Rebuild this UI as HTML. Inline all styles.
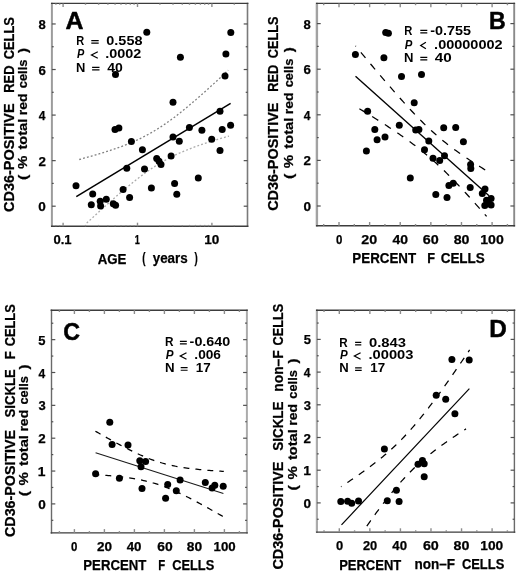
<!DOCTYPE html>
<html><head><meta charset="utf-8"><title>Figure</title>
<style>
html,body{margin:0;padding:0;background:#fff;}
body{width:520px;height:573px;overflow:hidden;font-family:"Liberation Sans",sans-serif;}
svg{display:block;will-change:transform;filter:blur(0.35px);}
</style></head>
<body>
<svg width="520" height="573" viewBox="0 0 520 573"><rect width="520" height="573" fill="#fff"/><path d="M51.90,2.70V227.00" stroke="#9c9c9c" stroke-width="2.0" fill="none"/><path d="M247.50,2.70V227.00" stroke="#7a7a7a" stroke-width="1.6" fill="none"/><path d="M51.00,3.40H248.40M51.00,226.30H248.40" stroke="#3c3c3c" stroke-width="1.4" fill="none"/>
<line x1="51.90" y1="206.20" x2="55.70" y2="206.20" stroke="#505050" stroke-width="1.2"/>
<line x1="243.70" y1="206.20" x2="247.50" y2="206.20" stroke="#505050" stroke-width="1.2"/>
<line x1="51.90" y1="183.42" x2="53.70" y2="183.42" stroke="#505050" stroke-width="1.2"/>
<line x1="245.70" y1="183.42" x2="247.50" y2="183.42" stroke="#505050" stroke-width="1.2"/>
<line x1="51.90" y1="160.64" x2="55.70" y2="160.64" stroke="#505050" stroke-width="1.2"/>
<line x1="243.70" y1="160.64" x2="247.50" y2="160.64" stroke="#505050" stroke-width="1.2"/>
<line x1="51.90" y1="137.86" x2="53.70" y2="137.86" stroke="#505050" stroke-width="1.2"/>
<line x1="245.70" y1="137.86" x2="247.50" y2="137.86" stroke="#505050" stroke-width="1.2"/>
<line x1="51.90" y1="115.08" x2="55.70" y2="115.08" stroke="#505050" stroke-width="1.2"/>
<line x1="243.70" y1="115.08" x2="247.50" y2="115.08" stroke="#505050" stroke-width="1.2"/>
<line x1="51.90" y1="92.30" x2="53.70" y2="92.30" stroke="#505050" stroke-width="1.2"/>
<line x1="245.70" y1="92.30" x2="247.50" y2="92.30" stroke="#505050" stroke-width="1.2"/>
<line x1="51.90" y1="69.52" x2="55.70" y2="69.52" stroke="#505050" stroke-width="1.2"/>
<line x1="243.70" y1="69.52" x2="247.50" y2="69.52" stroke="#505050" stroke-width="1.2"/>
<line x1="51.90" y1="46.74" x2="53.70" y2="46.74" stroke="#505050" stroke-width="1.2"/>
<line x1="245.70" y1="46.74" x2="247.50" y2="46.74" stroke="#505050" stroke-width="1.2"/>
<line x1="51.90" y1="23.96" x2="55.70" y2="23.96" stroke="#505050" stroke-width="1.2"/>
<line x1="243.70" y1="23.96" x2="247.50" y2="23.96" stroke="#505050" stroke-width="1.2"/>
<line x1="55.89" y1="224.90" x2="55.89" y2="226.30" stroke="#8c8c8c" stroke-width="1.4"/>
<line x1="55.89" y1="3.40" x2="55.89" y2="4.80" stroke="#8c8c8c" stroke-width="1.4"/>
<line x1="59.70" y1="224.90" x2="59.70" y2="226.30" stroke="#8c8c8c" stroke-width="1.4"/>
<line x1="59.70" y1="3.40" x2="59.70" y2="4.80" stroke="#8c8c8c" stroke-width="1.4"/>
<line x1="63.10" y1="222.70" x2="63.10" y2="226.30" stroke="#8c8c8c" stroke-width="1.4"/>
<line x1="63.10" y1="3.40" x2="63.10" y2="7.00" stroke="#8c8c8c" stroke-width="1.4"/>
<line x1="85.50" y1="224.90" x2="85.50" y2="226.30" stroke="#8c8c8c" stroke-width="1.4"/>
<line x1="85.50" y1="3.40" x2="85.50" y2="4.80" stroke="#8c8c8c" stroke-width="1.4"/>
<line x1="98.60" y1="224.90" x2="98.60" y2="226.30" stroke="#8c8c8c" stroke-width="1.4"/>
<line x1="98.60" y1="3.40" x2="98.60" y2="4.80" stroke="#8c8c8c" stroke-width="1.4"/>
<line x1="107.89" y1="224.90" x2="107.89" y2="226.30" stroke="#8c8c8c" stroke-width="1.4"/>
<line x1="107.89" y1="3.40" x2="107.89" y2="4.80" stroke="#8c8c8c" stroke-width="1.4"/>
<line x1="115.10" y1="224.90" x2="115.10" y2="226.30" stroke="#8c8c8c" stroke-width="1.4"/>
<line x1="115.10" y1="3.40" x2="115.10" y2="4.80" stroke="#8c8c8c" stroke-width="1.4"/>
<line x1="120.99" y1="224.90" x2="120.99" y2="226.30" stroke="#8c8c8c" stroke-width="1.4"/>
<line x1="120.99" y1="3.40" x2="120.99" y2="4.80" stroke="#8c8c8c" stroke-width="1.4"/>
<line x1="125.98" y1="224.90" x2="125.98" y2="226.30" stroke="#8c8c8c" stroke-width="1.4"/>
<line x1="125.98" y1="3.40" x2="125.98" y2="4.80" stroke="#8c8c8c" stroke-width="1.4"/>
<line x1="130.29" y1="224.90" x2="130.29" y2="226.30" stroke="#8c8c8c" stroke-width="1.4"/>
<line x1="130.29" y1="3.40" x2="130.29" y2="4.80" stroke="#8c8c8c" stroke-width="1.4"/>
<line x1="134.10" y1="224.90" x2="134.10" y2="226.30" stroke="#8c8c8c" stroke-width="1.4"/>
<line x1="134.10" y1="3.40" x2="134.10" y2="4.80" stroke="#8c8c8c" stroke-width="1.4"/>
<line x1="137.50" y1="222.70" x2="137.50" y2="226.30" stroke="#8c8c8c" stroke-width="1.4"/>
<line x1="137.50" y1="3.40" x2="137.50" y2="7.00" stroke="#8c8c8c" stroke-width="1.4"/>
<line x1="159.90" y1="224.90" x2="159.90" y2="226.30" stroke="#8c8c8c" stroke-width="1.4"/>
<line x1="159.90" y1="3.40" x2="159.90" y2="4.80" stroke="#8c8c8c" stroke-width="1.4"/>
<line x1="173.00" y1="224.90" x2="173.00" y2="226.30" stroke="#8c8c8c" stroke-width="1.4"/>
<line x1="173.00" y1="3.40" x2="173.00" y2="4.80" stroke="#8c8c8c" stroke-width="1.4"/>
<line x1="182.29" y1="224.90" x2="182.29" y2="226.30" stroke="#8c8c8c" stroke-width="1.4"/>
<line x1="182.29" y1="3.40" x2="182.29" y2="4.80" stroke="#8c8c8c" stroke-width="1.4"/>
<line x1="189.50" y1="224.90" x2="189.50" y2="226.30" stroke="#8c8c8c" stroke-width="1.4"/>
<line x1="189.50" y1="3.40" x2="189.50" y2="4.80" stroke="#8c8c8c" stroke-width="1.4"/>
<line x1="195.39" y1="224.90" x2="195.39" y2="226.30" stroke="#8c8c8c" stroke-width="1.4"/>
<line x1="195.39" y1="3.40" x2="195.39" y2="4.80" stroke="#8c8c8c" stroke-width="1.4"/>
<line x1="200.38" y1="224.90" x2="200.38" y2="226.30" stroke="#8c8c8c" stroke-width="1.4"/>
<line x1="200.38" y1="3.40" x2="200.38" y2="4.80" stroke="#8c8c8c" stroke-width="1.4"/>
<line x1="204.69" y1="224.90" x2="204.69" y2="226.30" stroke="#8c8c8c" stroke-width="1.4"/>
<line x1="204.69" y1="3.40" x2="204.69" y2="4.80" stroke="#8c8c8c" stroke-width="1.4"/>
<line x1="208.50" y1="224.90" x2="208.50" y2="226.30" stroke="#8c8c8c" stroke-width="1.4"/>
<line x1="208.50" y1="3.40" x2="208.50" y2="4.80" stroke="#8c8c8c" stroke-width="1.4"/>
<line x1="211.90" y1="222.70" x2="211.90" y2="226.30" stroke="#8c8c8c" stroke-width="1.4"/>
<line x1="211.90" y1="3.40" x2="211.90" y2="7.00" stroke="#8c8c8c" stroke-width="1.4"/>
<line x1="234.30" y1="224.90" x2="234.30" y2="226.30" stroke="#8c8c8c" stroke-width="1.4"/>
<line x1="234.30" y1="3.40" x2="234.30" y2="4.80" stroke="#8c8c8c" stroke-width="1.4"/>
<path d="M316.90,2.70V226.50" stroke="#a2a2a2" stroke-width="2.4" fill="none"/><path d="M514.20,2.70V226.50" stroke="#8a8a8a" stroke-width="1.9" fill="none"/><path d="M316.00,3.40H515.10M316.00,225.80H515.10" stroke="#3c3c3c" stroke-width="1.4" fill="none"/>
<line x1="316.90" y1="206.00" x2="320.70" y2="206.00" stroke="#505050" stroke-width="1.2"/>
<line x1="510.40" y1="206.00" x2="514.20" y2="206.00" stroke="#505050" stroke-width="1.2"/>
<line x1="316.90" y1="183.20" x2="318.70" y2="183.20" stroke="#505050" stroke-width="1.2"/>
<line x1="512.40" y1="183.20" x2="514.20" y2="183.20" stroke="#505050" stroke-width="1.2"/>
<line x1="316.90" y1="160.40" x2="320.70" y2="160.40" stroke="#505050" stroke-width="1.2"/>
<line x1="510.40" y1="160.40" x2="514.20" y2="160.40" stroke="#505050" stroke-width="1.2"/>
<line x1="316.90" y1="137.60" x2="318.70" y2="137.60" stroke="#505050" stroke-width="1.2"/>
<line x1="512.40" y1="137.60" x2="514.20" y2="137.60" stroke="#505050" stroke-width="1.2"/>
<line x1="316.90" y1="114.80" x2="320.70" y2="114.80" stroke="#505050" stroke-width="1.2"/>
<line x1="510.40" y1="114.80" x2="514.20" y2="114.80" stroke="#505050" stroke-width="1.2"/>
<line x1="316.90" y1="92.00" x2="318.70" y2="92.00" stroke="#505050" stroke-width="1.2"/>
<line x1="512.40" y1="92.00" x2="514.20" y2="92.00" stroke="#505050" stroke-width="1.2"/>
<line x1="316.90" y1="69.20" x2="320.70" y2="69.20" stroke="#505050" stroke-width="1.2"/>
<line x1="510.40" y1="69.20" x2="514.20" y2="69.20" stroke="#505050" stroke-width="1.2"/>
<line x1="316.90" y1="46.40" x2="318.70" y2="46.40" stroke="#505050" stroke-width="1.2"/>
<line x1="512.40" y1="46.40" x2="514.20" y2="46.40" stroke="#505050" stroke-width="1.2"/>
<line x1="316.90" y1="23.60" x2="320.70" y2="23.60" stroke="#505050" stroke-width="1.2"/>
<line x1="510.40" y1="23.60" x2="514.20" y2="23.60" stroke="#505050" stroke-width="1.2"/>
<line x1="323.69" y1="224.00" x2="323.69" y2="225.80" stroke="#8c8c8c" stroke-width="1.4"/>
<line x1="323.69" y1="3.40" x2="323.69" y2="5.20" stroke="#8c8c8c" stroke-width="1.4"/>
<line x1="339.00" y1="222.00" x2="339.00" y2="225.80" stroke="#8c8c8c" stroke-width="1.4"/>
<line x1="339.00" y1="3.40" x2="339.00" y2="7.20" stroke="#8c8c8c" stroke-width="1.4"/>
<line x1="354.31" y1="224.00" x2="354.31" y2="225.80" stroke="#8c8c8c" stroke-width="1.4"/>
<line x1="354.31" y1="3.40" x2="354.31" y2="5.20" stroke="#8c8c8c" stroke-width="1.4"/>
<line x1="369.62" y1="222.00" x2="369.62" y2="225.80" stroke="#8c8c8c" stroke-width="1.4"/>
<line x1="369.62" y1="3.40" x2="369.62" y2="7.20" stroke="#8c8c8c" stroke-width="1.4"/>
<line x1="384.93" y1="224.00" x2="384.93" y2="225.80" stroke="#8c8c8c" stroke-width="1.4"/>
<line x1="384.93" y1="3.40" x2="384.93" y2="5.20" stroke="#8c8c8c" stroke-width="1.4"/>
<line x1="400.24" y1="222.00" x2="400.24" y2="225.80" stroke="#8c8c8c" stroke-width="1.4"/>
<line x1="400.24" y1="3.40" x2="400.24" y2="7.20" stroke="#8c8c8c" stroke-width="1.4"/>
<line x1="415.55" y1="224.00" x2="415.55" y2="225.80" stroke="#8c8c8c" stroke-width="1.4"/>
<line x1="415.55" y1="3.40" x2="415.55" y2="5.20" stroke="#8c8c8c" stroke-width="1.4"/>
<line x1="430.86" y1="222.00" x2="430.86" y2="225.80" stroke="#8c8c8c" stroke-width="1.4"/>
<line x1="430.86" y1="3.40" x2="430.86" y2="7.20" stroke="#8c8c8c" stroke-width="1.4"/>
<line x1="446.17" y1="224.00" x2="446.17" y2="225.80" stroke="#8c8c8c" stroke-width="1.4"/>
<line x1="446.17" y1="3.40" x2="446.17" y2="5.20" stroke="#8c8c8c" stroke-width="1.4"/>
<line x1="461.48" y1="222.00" x2="461.48" y2="225.80" stroke="#8c8c8c" stroke-width="1.4"/>
<line x1="461.48" y1="3.40" x2="461.48" y2="7.20" stroke="#8c8c8c" stroke-width="1.4"/>
<line x1="476.79" y1="224.00" x2="476.79" y2="225.80" stroke="#8c8c8c" stroke-width="1.4"/>
<line x1="476.79" y1="3.40" x2="476.79" y2="5.20" stroke="#8c8c8c" stroke-width="1.4"/>
<line x1="492.10" y1="222.00" x2="492.10" y2="225.80" stroke="#8c8c8c" stroke-width="1.4"/>
<line x1="492.10" y1="3.40" x2="492.10" y2="7.20" stroke="#8c8c8c" stroke-width="1.4"/>
<line x1="507.41" y1="224.00" x2="507.41" y2="225.80" stroke="#8c8c8c" stroke-width="1.4"/>
<line x1="507.41" y1="3.40" x2="507.41" y2="5.20" stroke="#8c8c8c" stroke-width="1.4"/>
<path d="M51.50,309.50V533.60" stroke="#6a6a6a" stroke-width="1.4" fill="none"/><path d="M246.90,309.50V533.60" stroke="#ababab" stroke-width="2.0" fill="none"/><path d="M50.60,310.20H247.80M50.60,532.90H247.80" stroke="#3c3c3c" stroke-width="1.4" fill="none"/>
<line x1="51.50" y1="520.32" x2="53.30" y2="520.32" stroke="#505050" stroke-width="1.2"/>
<line x1="245.10" y1="520.32" x2="246.90" y2="520.32" stroke="#505050" stroke-width="1.2"/>
<line x1="51.50" y1="503.90" x2="55.30" y2="503.90" stroke="#505050" stroke-width="1.2"/>
<line x1="243.10" y1="503.90" x2="246.90" y2="503.90" stroke="#505050" stroke-width="1.2"/>
<line x1="51.50" y1="487.47" x2="53.30" y2="487.47" stroke="#505050" stroke-width="1.2"/>
<line x1="245.10" y1="487.47" x2="246.90" y2="487.47" stroke="#505050" stroke-width="1.2"/>
<line x1="51.50" y1="471.05" x2="55.30" y2="471.05" stroke="#505050" stroke-width="1.2"/>
<line x1="243.10" y1="471.05" x2="246.90" y2="471.05" stroke="#505050" stroke-width="1.2"/>
<line x1="51.50" y1="454.62" x2="53.30" y2="454.62" stroke="#505050" stroke-width="1.2"/>
<line x1="245.10" y1="454.62" x2="246.90" y2="454.62" stroke="#505050" stroke-width="1.2"/>
<line x1="51.50" y1="438.20" x2="55.30" y2="438.20" stroke="#505050" stroke-width="1.2"/>
<line x1="243.10" y1="438.20" x2="246.90" y2="438.20" stroke="#505050" stroke-width="1.2"/>
<line x1="51.50" y1="421.77" x2="53.30" y2="421.77" stroke="#505050" stroke-width="1.2"/>
<line x1="245.10" y1="421.77" x2="246.90" y2="421.77" stroke="#505050" stroke-width="1.2"/>
<line x1="51.50" y1="405.35" x2="55.30" y2="405.35" stroke="#505050" stroke-width="1.2"/>
<line x1="243.10" y1="405.35" x2="246.90" y2="405.35" stroke="#505050" stroke-width="1.2"/>
<line x1="51.50" y1="388.92" x2="53.30" y2="388.92" stroke="#505050" stroke-width="1.2"/>
<line x1="245.10" y1="388.92" x2="246.90" y2="388.92" stroke="#505050" stroke-width="1.2"/>
<line x1="51.50" y1="372.50" x2="55.30" y2="372.50" stroke="#505050" stroke-width="1.2"/>
<line x1="243.10" y1="372.50" x2="246.90" y2="372.50" stroke="#505050" stroke-width="1.2"/>
<line x1="51.50" y1="356.07" x2="53.30" y2="356.07" stroke="#505050" stroke-width="1.2"/>
<line x1="245.10" y1="356.07" x2="246.90" y2="356.07" stroke="#505050" stroke-width="1.2"/>
<line x1="51.50" y1="339.65" x2="55.30" y2="339.65" stroke="#505050" stroke-width="1.2"/>
<line x1="243.10" y1="339.65" x2="246.90" y2="339.65" stroke="#505050" stroke-width="1.2"/>
<line x1="51.50" y1="323.22" x2="53.30" y2="323.22" stroke="#505050" stroke-width="1.2"/>
<line x1="245.10" y1="323.22" x2="246.90" y2="323.22" stroke="#505050" stroke-width="1.2"/>
<line x1="59.40" y1="531.10" x2="59.40" y2="532.90" stroke="#8c8c8c" stroke-width="1.4"/>
<line x1="59.40" y1="310.20" x2="59.40" y2="312.00" stroke="#8c8c8c" stroke-width="1.4"/>
<line x1="74.40" y1="529.10" x2="74.40" y2="532.90" stroke="#8c8c8c" stroke-width="1.4"/>
<line x1="74.40" y1="310.20" x2="74.40" y2="314.00" stroke="#8c8c8c" stroke-width="1.4"/>
<line x1="89.40" y1="531.10" x2="89.40" y2="532.90" stroke="#8c8c8c" stroke-width="1.4"/>
<line x1="89.40" y1="310.20" x2="89.40" y2="312.00" stroke="#8c8c8c" stroke-width="1.4"/>
<line x1="104.40" y1="529.10" x2="104.40" y2="532.90" stroke="#8c8c8c" stroke-width="1.4"/>
<line x1="104.40" y1="310.20" x2="104.40" y2="314.00" stroke="#8c8c8c" stroke-width="1.4"/>
<line x1="119.40" y1="531.10" x2="119.40" y2="532.90" stroke="#8c8c8c" stroke-width="1.4"/>
<line x1="119.40" y1="310.20" x2="119.40" y2="312.00" stroke="#8c8c8c" stroke-width="1.4"/>
<line x1="134.40" y1="529.10" x2="134.40" y2="532.90" stroke="#8c8c8c" stroke-width="1.4"/>
<line x1="134.40" y1="310.20" x2="134.40" y2="314.00" stroke="#8c8c8c" stroke-width="1.4"/>
<line x1="149.40" y1="531.10" x2="149.40" y2="532.90" stroke="#8c8c8c" stroke-width="1.4"/>
<line x1="149.40" y1="310.20" x2="149.40" y2="312.00" stroke="#8c8c8c" stroke-width="1.4"/>
<line x1="164.40" y1="529.10" x2="164.40" y2="532.90" stroke="#8c8c8c" stroke-width="1.4"/>
<line x1="164.40" y1="310.20" x2="164.40" y2="314.00" stroke="#8c8c8c" stroke-width="1.4"/>
<line x1="179.40" y1="531.10" x2="179.40" y2="532.90" stroke="#8c8c8c" stroke-width="1.4"/>
<line x1="179.40" y1="310.20" x2="179.40" y2="312.00" stroke="#8c8c8c" stroke-width="1.4"/>
<line x1="194.40" y1="529.10" x2="194.40" y2="532.90" stroke="#8c8c8c" stroke-width="1.4"/>
<line x1="194.40" y1="310.20" x2="194.40" y2="314.00" stroke="#8c8c8c" stroke-width="1.4"/>
<line x1="209.40" y1="531.10" x2="209.40" y2="532.90" stroke="#8c8c8c" stroke-width="1.4"/>
<line x1="209.40" y1="310.20" x2="209.40" y2="312.00" stroke="#8c8c8c" stroke-width="1.4"/>
<line x1="224.40" y1="529.10" x2="224.40" y2="532.90" stroke="#8c8c8c" stroke-width="1.4"/>
<line x1="224.40" y1="310.20" x2="224.40" y2="314.00" stroke="#8c8c8c" stroke-width="1.4"/>
<line x1="239.40" y1="531.10" x2="239.40" y2="532.90" stroke="#8c8c8c" stroke-width="1.4"/>
<line x1="239.40" y1="310.20" x2="239.40" y2="312.00" stroke="#8c8c8c" stroke-width="1.4"/>
<path d="M316.90,309.50V532.80" stroke="#ababab" stroke-width="2.2" fill="none"/><path d="M514.40,309.50V532.80" stroke="#6a6a6a" stroke-width="1.4" fill="none"/><path d="M316.00,310.20H515.30M316.00,532.10H515.30" stroke="#3c3c3c" stroke-width="1.4" fill="none"/>
<line x1="316.90" y1="519.25" x2="318.70" y2="519.25" stroke="#505050" stroke-width="1.2"/>
<line x1="512.60" y1="519.25" x2="514.40" y2="519.25" stroke="#505050" stroke-width="1.2"/>
<line x1="316.90" y1="502.90" x2="320.70" y2="502.90" stroke="#505050" stroke-width="1.2"/>
<line x1="510.60" y1="502.90" x2="514.40" y2="502.90" stroke="#505050" stroke-width="1.2"/>
<line x1="316.90" y1="486.55" x2="318.70" y2="486.55" stroke="#505050" stroke-width="1.2"/>
<line x1="512.60" y1="486.55" x2="514.40" y2="486.55" stroke="#505050" stroke-width="1.2"/>
<line x1="316.90" y1="470.20" x2="320.70" y2="470.20" stroke="#505050" stroke-width="1.2"/>
<line x1="510.60" y1="470.20" x2="514.40" y2="470.20" stroke="#505050" stroke-width="1.2"/>
<line x1="316.90" y1="453.85" x2="318.70" y2="453.85" stroke="#505050" stroke-width="1.2"/>
<line x1="512.60" y1="453.85" x2="514.40" y2="453.85" stroke="#505050" stroke-width="1.2"/>
<line x1="316.90" y1="437.50" x2="320.70" y2="437.50" stroke="#505050" stroke-width="1.2"/>
<line x1="510.60" y1="437.50" x2="514.40" y2="437.50" stroke="#505050" stroke-width="1.2"/>
<line x1="316.90" y1="421.15" x2="318.70" y2="421.15" stroke="#505050" stroke-width="1.2"/>
<line x1="512.60" y1="421.15" x2="514.40" y2="421.15" stroke="#505050" stroke-width="1.2"/>
<line x1="316.90" y1="404.80" x2="320.70" y2="404.80" stroke="#505050" stroke-width="1.2"/>
<line x1="510.60" y1="404.80" x2="514.40" y2="404.80" stroke="#505050" stroke-width="1.2"/>
<line x1="316.90" y1="388.45" x2="318.70" y2="388.45" stroke="#505050" stroke-width="1.2"/>
<line x1="512.60" y1="388.45" x2="514.40" y2="388.45" stroke="#505050" stroke-width="1.2"/>
<line x1="316.90" y1="372.10" x2="320.70" y2="372.10" stroke="#505050" stroke-width="1.2"/>
<line x1="510.60" y1="372.10" x2="514.40" y2="372.10" stroke="#505050" stroke-width="1.2"/>
<line x1="316.90" y1="355.75" x2="318.70" y2="355.75" stroke="#505050" stroke-width="1.2"/>
<line x1="512.60" y1="355.75" x2="514.40" y2="355.75" stroke="#505050" stroke-width="1.2"/>
<line x1="316.90" y1="339.40" x2="320.70" y2="339.40" stroke="#505050" stroke-width="1.2"/>
<line x1="510.60" y1="339.40" x2="514.40" y2="339.40" stroke="#505050" stroke-width="1.2"/>
<line x1="316.90" y1="323.05" x2="318.70" y2="323.05" stroke="#505050" stroke-width="1.2"/>
<line x1="512.60" y1="323.05" x2="514.40" y2="323.05" stroke="#505050" stroke-width="1.2"/>
<line x1="324.02" y1="530.30" x2="324.02" y2="532.10" stroke="#8c8c8c" stroke-width="1.4"/>
<line x1="324.02" y1="310.20" x2="324.02" y2="312.00" stroke="#8c8c8c" stroke-width="1.4"/>
<line x1="339.30" y1="528.30" x2="339.30" y2="532.10" stroke="#8c8c8c" stroke-width="1.4"/>
<line x1="339.30" y1="310.20" x2="339.30" y2="314.00" stroke="#8c8c8c" stroke-width="1.4"/>
<line x1="354.58" y1="530.30" x2="354.58" y2="532.10" stroke="#8c8c8c" stroke-width="1.4"/>
<line x1="354.58" y1="310.20" x2="354.58" y2="312.00" stroke="#8c8c8c" stroke-width="1.4"/>
<line x1="369.86" y1="528.30" x2="369.86" y2="532.10" stroke="#8c8c8c" stroke-width="1.4"/>
<line x1="369.86" y1="310.20" x2="369.86" y2="314.00" stroke="#8c8c8c" stroke-width="1.4"/>
<line x1="385.14" y1="530.30" x2="385.14" y2="532.10" stroke="#8c8c8c" stroke-width="1.4"/>
<line x1="385.14" y1="310.20" x2="385.14" y2="312.00" stroke="#8c8c8c" stroke-width="1.4"/>
<line x1="400.42" y1="528.30" x2="400.42" y2="532.10" stroke="#8c8c8c" stroke-width="1.4"/>
<line x1="400.42" y1="310.20" x2="400.42" y2="314.00" stroke="#8c8c8c" stroke-width="1.4"/>
<line x1="415.70" y1="530.30" x2="415.70" y2="532.10" stroke="#8c8c8c" stroke-width="1.4"/>
<line x1="415.70" y1="310.20" x2="415.70" y2="312.00" stroke="#8c8c8c" stroke-width="1.4"/>
<line x1="430.98" y1="528.30" x2="430.98" y2="532.10" stroke="#8c8c8c" stroke-width="1.4"/>
<line x1="430.98" y1="310.20" x2="430.98" y2="314.00" stroke="#8c8c8c" stroke-width="1.4"/>
<line x1="446.26" y1="530.30" x2="446.26" y2="532.10" stroke="#8c8c8c" stroke-width="1.4"/>
<line x1="446.26" y1="310.20" x2="446.26" y2="312.00" stroke="#8c8c8c" stroke-width="1.4"/>
<line x1="461.54" y1="528.30" x2="461.54" y2="532.10" stroke="#8c8c8c" stroke-width="1.4"/>
<line x1="461.54" y1="310.20" x2="461.54" y2="314.00" stroke="#8c8c8c" stroke-width="1.4"/>
<line x1="476.82" y1="530.30" x2="476.82" y2="532.10" stroke="#8c8c8c" stroke-width="1.4"/>
<line x1="476.82" y1="310.20" x2="476.82" y2="312.00" stroke="#8c8c8c" stroke-width="1.4"/>
<line x1="492.10" y1="528.30" x2="492.10" y2="532.10" stroke="#8c8c8c" stroke-width="1.4"/>
<line x1="492.10" y1="310.20" x2="492.10" y2="314.00" stroke="#8c8c8c" stroke-width="1.4"/>
<line x1="507.38" y1="530.30" x2="507.38" y2="532.10" stroke="#8c8c8c" stroke-width="1.4"/>
<line x1="507.38" y1="310.20" x2="507.38" y2="312.00" stroke="#8c8c8c" stroke-width="1.4"/>
<path d="M76.30,196.70 L230.60,103.35" fill="none" stroke="#000" stroke-width="1.5"/>
<path d="M79.20,159.50 L81.06,159.00 L82.92,158.50 L84.79,157.99 L86.65,157.48 L88.51,156.96 L90.38,156.44 L92.24,155.91 L94.10,155.37 L95.96,154.83 L97.83,154.28 L99.69,153.72 L101.55,153.16 L103.41,152.59 L105.28,152.00 L107.14,151.41 L109.00,150.81 L110.86,150.20 L112.72,149.58 L114.59,148.94 L116.45,148.29 L118.31,147.63 L120.18,146.96 L122.04,146.27 L123.90,145.56 L125.76,144.83 L127.62,144.09 L129.49,143.33 L131.35,142.55 L133.21,141.75 L135.07,140.93 L136.94,140.08 L138.80,139.21 L140.66,138.31 L142.53,137.39 L144.39,136.44 L146.25,135.47 L148.11,134.47 L149.98,133.44 L151.84,132.37 L153.70,131.28 L155.56,130.17 L157.43,129.02 L159.29,127.84 L161.15,126.63 L163.01,125.39 L164.88,124.13 L166.74,122.84 L168.60,121.52 L170.46,120.17 L172.32,118.80 L174.19,117.41 L176.05,115.99 L177.91,114.55 L179.78,113.08 L181.64,111.60 L183.50,110.10 L185.36,108.58 L187.23,107.04 L189.09,105.49 L190.95,103.92 L192.81,102.33 L194.68,100.73 L196.54,99.12 L198.40,97.50 L200.26,95.86 L202.12,94.21 L203.99,92.55 L205.85,90.89 L207.71,89.21 L209.57,87.53 L211.44,85.83 L213.30,84.13 L215.16,82.42 L217.02,80.71 L218.89,78.99 L220.75,77.26 L222.61,75.53 L224.48,73.79 L226.34,72.04 L228.20,70.30" fill="none" stroke="#808080" stroke-width="1.3" stroke-dasharray="1.9 2.1"/>
<path d="M86.69,223.12 L88.56,221.38 L90.44,219.64 L92.31,217.91 L94.18,216.18 L96.05,214.46 L97.93,212.74 L99.80,211.03 L101.67,209.33 L103.54,207.63 L105.42,205.94 L107.29,204.26 L109.16,202.59 L111.03,200.92 L112.91,199.27 L114.78,197.62 L116.65,195.99 L118.52,194.37 L120.40,192.76 L122.27,191.16 L124.14,189.57 L126.01,188.00 L127.89,186.45 L129.76,184.91 L131.63,183.39 L133.50,181.89 L135.38,180.41 L137.25,178.95 L139.12,177.51 L140.99,176.09 L142.87,174.70 L144.74,173.33 L146.61,171.99 L148.48,170.67 L150.36,169.39 L152.23,168.13 L154.10,166.90 L155.97,165.70 L157.85,164.52 L159.72,163.38 L161.59,162.27 L163.46,161.19 L165.34,160.14 L167.21,159.12 L169.08,158.12 L170.95,157.16 L172.83,156.22 L174.70,155.31 L176.57,154.42 L178.44,153.56 L180.31,152.72 L182.19,151.90 L184.06,151.11 L185.93,150.33 L187.81,149.58 L189.68,148.84 L191.55,148.12 L193.42,147.41 L195.30,146.72 L197.17,146.05 L199.04,145.39 L200.91,144.74 L202.79,144.10 L204.66,143.47 L206.53,142.86 L208.40,142.25 L210.27,141.65 L212.15,141.06 L214.02,140.48 L215.89,139.91 L217.76,139.34 L219.64,138.78 L221.51,138.23 L223.38,137.69 L225.25,137.14 L227.13,136.61 L229.00,136.08" fill="none" stroke="#ababab" stroke-width="1.3" stroke-dasharray="1.9 2.1"/>
<path d="M355.50,76.36 L489.00,195.64" fill="none" stroke="#000" stroke-width="1.35"/>
<path d="M355.50,45.88 L357.20,47.93 L358.90,49.98 L360.60,52.02 L362.31,54.07 L364.01,56.11 L365.71,58.14 L367.41,60.18 L369.11,62.21 L370.81,64.23 L372.51,66.26 L374.21,68.28 L375.92,70.29 L377.62,72.30 L379.32,74.31 L381.02,76.31 L382.72,78.30 L384.42,80.29 L386.12,82.28 L387.82,84.25 L389.52,86.23 L391.23,88.19 L392.93,90.14 L394.63,92.09 L396.33,94.03 L398.03,95.96 L399.73,97.88 L401.43,99.78 L403.13,101.68 L404.84,103.56 L406.54,105.43 L408.24,107.29 L409.94,109.13 L411.64,110.95 L413.34,112.76 L415.04,114.55 L416.75,116.32 L418.45,118.08 L420.15,119.81 L421.85,121.52 L423.55,123.20 L425.25,124.87 L426.95,126.51 L428.65,128.12 L430.36,129.71 L432.06,131.27 L433.76,132.81 L435.46,134.32 L437.16,135.81 L438.86,137.27 L440.56,138.71 L442.26,140.11 L443.97,141.50 L445.67,142.86 L447.37,144.20 L449.07,145.52 L450.77,146.81 L452.47,148.09 L454.17,149.35 L455.87,150.58 L457.58,151.80 L459.28,153.01 L460.98,154.20 L462.68,155.37 L464.38,156.54 L466.08,157.68 L467.78,158.82 L469.48,159.95 L471.19,161.06 L472.89,162.17 L474.59,163.26 L476.29,164.35 L477.99,165.43 L479.69,166.50 L481.39,167.57 L483.09,168.63 L484.80,169.68 L486.50,170.73 L488.20,171.77 L489.90,172.80 L491.60,173.84" fill="none" stroke="#000" stroke-width="1.25" stroke-dasharray="7.2 7.8" stroke-dashoffset="6.6"/>
<path d="M359.40,108.69 L360.99,109.66 L362.58,110.63 L364.17,111.60 L365.76,112.58 L367.35,113.56 L368.94,114.54 L370.53,115.52 L372.12,116.51 L373.71,117.50 L375.30,118.50 L376.89,119.50 L378.48,120.51 L380.07,121.51 L381.66,122.53 L383.25,123.55 L384.84,124.57 L386.43,125.60 L388.02,126.64 L389.61,127.68 L391.20,128.73 L392.79,129.79 L394.38,130.86 L395.97,131.93 L397.56,133.01 L399.15,134.10 L400.74,135.20 L402.33,136.31 L403.92,137.43 L405.51,138.56 L407.10,139.70 L408.69,140.85 L410.28,142.02 L411.87,143.20 L413.46,144.39 L415.05,145.60 L416.64,146.82 L418.23,148.05 L419.82,149.31 L421.41,150.58 L423.00,151.86 L424.59,153.17 L426.18,154.49 L427.77,155.83 L429.36,157.19 L430.95,158.57 L432.54,159.96 L434.13,161.38 L435.72,162.81 L437.31,164.26 L438.90,165.74 L440.49,167.23 L442.08,168.73 L443.67,170.26 L445.26,171.81 L446.85,173.37 L448.44,174.95 L450.03,176.54 L451.62,178.15 L453.21,179.78 L454.80,181.42 L456.39,183.07 L457.98,184.74 L459.57,186.42 L461.16,188.12 L462.75,189.82 L464.34,191.54 L465.93,193.26 L467.52,195.00 L469.11,196.75 L470.70,198.50 L472.29,200.26 L473.88,202.04 L475.47,203.82 L477.06,205.60 L478.65,207.40 L480.24,209.20 L481.83,211.01 L483.42,212.82 L485.01,214.64 L486.60,216.46" fill="none" stroke="#000" stroke-width="1.25" stroke-dasharray="7.2 7.8"/>
<path d="M95.60,452.79 L223.40,493.61" fill="none" stroke="#1a1a1a" stroke-width="1.05"/>
<path d="M95.40,431.20 L97.01,432.12 L98.61,433.04 L100.22,433.95 L101.82,434.87 L103.43,435.77 L105.03,436.68 L106.64,437.58 L108.24,438.48 L109.85,439.37 L111.45,440.25 L113.06,441.14 L114.66,442.01 L116.27,442.89 L117.87,443.75 L119.48,444.61 L121.08,445.46 L122.69,446.31 L124.29,447.14 L125.90,447.97 L127.50,448.79 L129.11,449.60 L130.71,450.40 L132.31,451.19 L133.92,451.97 L135.53,452.74 L137.13,453.49 L138.74,454.23 L140.34,454.96 L141.94,455.67 L143.55,456.36 L145.16,457.04 L146.76,457.70 L148.37,458.34 L149.97,458.97 L151.57,459.57 L153.18,460.16 L154.79,460.72 L156.39,461.27 L158.00,461.79 L159.60,462.29 L161.21,462.77 L162.81,463.24 L164.42,463.68 L166.02,464.10 L167.62,464.50 L169.23,464.89 L170.84,465.25 L172.44,465.60 L174.05,465.93 L175.65,466.25 L177.25,466.55 L178.86,466.84 L180.47,467.11 L182.07,467.37 L183.68,467.62 L185.28,467.85 L186.88,468.08 L188.49,468.29 L190.10,468.50 L191.70,468.70 L193.31,468.89 L194.91,469.07 L196.52,469.24 L198.12,469.41 L199.73,469.57 L201.33,469.72 L202.94,469.87 L204.54,470.01 L206.15,470.15 L207.75,470.28 L209.36,470.41 L210.96,470.54 L212.56,470.66 L214.17,470.78 L215.78,470.89 L217.38,471.00 L218.99,471.11 L220.59,471.22 L222.19,471.32 L223.80,471.42" fill="none" stroke="#000" stroke-width="1.25" stroke-dasharray="5.9 6.1"/>
<path d="M95.40,474.60 L97.01,474.71 L98.61,474.82 L100.22,474.93 L101.82,475.05 L103.43,475.17 L105.03,475.30 L106.64,475.43 L108.24,475.56 L109.85,475.70 L111.45,475.85 L113.06,476.00 L114.66,476.16 L116.27,476.32 L117.87,476.49 L119.48,476.67 L121.08,476.85 L122.69,477.04 L124.29,477.24 L125.90,477.45 L127.50,477.67 L129.11,477.90 L130.71,478.14 L132.31,478.39 L133.92,478.65 L135.53,478.93 L137.13,479.22 L138.74,479.52 L140.34,479.84 L141.94,480.17 L143.55,480.52 L145.16,480.88 L146.76,481.27 L148.37,481.67 L149.97,482.09 L151.57,482.53 L153.18,482.98 L154.79,483.46 L156.39,483.96 L158.00,484.47 L159.60,485.01 L161.21,485.57 L162.81,486.14 L164.42,486.73 L166.02,487.35 L167.62,487.98 L169.23,488.63 L170.84,489.29 L172.44,489.97 L174.05,490.67 L175.65,491.39 L177.25,492.11 L178.86,492.86 L180.47,493.61 L182.07,494.38 L183.68,495.16 L185.28,495.95 L186.88,496.75 L188.49,497.56 L190.10,498.38 L191.70,499.20 L193.31,500.04 L194.91,500.89 L196.52,501.74 L198.12,502.60 L199.73,503.46 L201.33,504.33 L202.94,505.21 L204.54,506.09 L206.15,506.98 L207.75,507.87 L209.36,508.76 L210.96,509.67 L212.56,510.57 L214.17,511.48 L215.78,512.39 L217.38,513.31 L218.99,514.22 L220.59,515.15 L222.19,516.07 L223.80,517.00" fill="none" stroke="#000" stroke-width="1.25" stroke-dasharray="5.9 6.1" stroke-dashoffset="2.0"/>
<path d="M341.50,524.79 L469.40,388.67" fill="none" stroke="#000" stroke-width="1.2"/>
<path d="M341.00,486.68 L342.61,485.64 L344.21,484.59 L345.82,483.53 L347.43,482.47 L349.04,481.40 L350.64,480.33 L352.25,479.25 L353.86,478.16 L355.47,477.06 L357.07,475.96 L358.68,474.84 L360.29,473.72 L361.90,472.59 L363.50,471.44 L365.11,470.29 L366.72,469.12 L368.33,467.95 L369.94,466.75 L371.54,465.55 L373.15,464.33 L374.76,463.09 L376.37,461.84 L377.97,460.58 L379.58,459.29 L381.19,457.98 L382.80,456.66 L384.40,455.31 L386.01,453.95 L387.62,452.56 L389.23,451.14 L390.83,449.70 L392.44,448.24 L394.05,446.75 L395.66,445.23 L397.26,443.68 L398.87,442.11 L400.48,440.51 L402.09,438.87 L403.69,437.21 L405.30,435.52 L406.91,433.79 L408.51,432.04 L410.12,430.26 L411.73,428.44 L413.34,426.60 L414.95,424.73 L416.55,422.83 L418.16,420.91 L419.77,418.95 L421.38,416.97 L422.98,414.97 L424.59,412.94 L426.20,410.89 L427.81,408.82 L429.41,406.73 L431.02,404.61 L432.63,402.48 L434.24,400.33 L435.84,398.16 L437.45,395.98 L439.06,393.78 L440.67,391.57 L442.27,389.34 L443.88,387.10 L445.49,384.84 L447.10,382.58 L448.70,380.30 L450.31,378.01 L451.92,375.72 L453.53,373.41 L455.13,371.09 L456.74,368.77 L458.35,366.44 L459.96,364.10 L461.56,361.75 L463.17,359.40 L464.78,357.04 L466.38,354.68 L467.99,352.30 L469.60,349.93" fill="none" stroke="#000" stroke-width="1.25" stroke-dasharray="6.8 7.0" stroke-dashoffset="6.2"/>
<path d="M366.80,526.02 L368.04,524.27 L369.28,522.52 L370.52,520.79 L371.76,519.06 L373.00,517.33 L374.24,515.62 L375.48,513.92 L376.72,512.23 L377.96,510.54 L379.20,508.87 L380.44,507.21 L381.68,505.56 L382.92,503.92 L384.16,502.30 L385.40,500.69 L386.64,499.09 L387.88,497.51 L389.12,495.94 L390.36,494.39 L391.60,492.85 L392.84,491.33 L394.08,489.83 L395.32,488.35 L396.56,486.88 L397.80,485.43 L399.04,484.00 L400.28,482.58 L401.52,481.19 L402.76,479.81 L404.00,478.46 L405.24,477.12 L406.48,475.81 L407.72,474.51 L408.96,473.23 L410.20,471.97 L411.44,470.73 L412.68,469.51 L413.92,468.31 L415.16,467.13 L416.40,465.96 L417.64,464.82 L418.88,463.69 L420.12,462.57 L421.36,461.47 L422.60,460.39 L423.84,459.33 L425.08,458.27 L426.32,457.24 L427.56,456.21 L428.80,455.20 L430.04,454.20 L431.28,453.21 L432.52,452.24 L433.76,451.28 L435.00,450.32 L436.24,449.38 L437.48,448.45 L438.72,447.52 L439.96,446.61 L441.20,445.70 L442.44,444.80 L443.68,443.91 L444.92,443.03 L446.16,442.15 L447.40,441.28 L448.64,440.42 L449.88,439.56 L451.12,438.71 L452.36,437.87 L453.60,437.03 L454.84,436.19 L456.08,435.36 L457.32,434.54 L458.56,433.72 L459.80,432.90 L461.04,432.09 L462.28,431.28 L463.52,430.47 L464.76,429.67 L466.00,428.87" fill="none" stroke="#000" stroke-width="1.25" stroke-dasharray="6.8 7.0"/>
<g fill="#000"><circle cx="76.0" cy="185.7" r="3.5"/><circle cx="92.7" cy="194.0" r="3.5"/><circle cx="91.3" cy="204.8" r="3.5"/><circle cx="100.2" cy="201.3" r="3.5"/><circle cx="106.3" cy="199.2" r="3.5"/><circle cx="100.6" cy="206.1" r="3.5"/><circle cx="113.3" cy="203.8" r="3.5"/><circle cx="115.6" cy="205.2" r="3.5"/><circle cx="115.0" cy="129.5" r="3.5"/><circle cx="118.9" cy="128.1" r="3.5"/><circle cx="131.4" cy="141.5" r="3.5"/><circle cx="142.4" cy="149.7" r="3.5"/><circle cx="126.8" cy="168.3" r="3.5"/><circle cx="144.5" cy="169.0" r="3.5"/><circle cx="123.1" cy="189.6" r="3.5"/><circle cx="129.6" cy="197.5" r="3.5"/><circle cx="151.4" cy="187.9" r="3.5"/><circle cx="146.8" cy="32.3" r="3.5"/><circle cx="115.5" cy="74.4" r="3.5"/><circle cx="173.0" cy="102.3" r="3.5"/><circle cx="173.0" cy="137.0" r="3.5"/><circle cx="179.3" cy="141.2" r="3.5"/><circle cx="189.4" cy="127.6" r="3.5"/><circle cx="171.1" cy="156.0" r="3.5"/><circle cx="156.7" cy="158.5" r="3.5"/><circle cx="159.0" cy="161.3" r="3.5"/><circle cx="161.0" cy="164.5" r="3.5"/><circle cx="174.6" cy="183.5" r="3.5"/><circle cx="176.8" cy="194.3" r="3.5"/><circle cx="198.3" cy="178.1" r="3.5"/><circle cx="201.9" cy="130.3" r="3.5"/><circle cx="211.7" cy="139.2" r="3.5"/><circle cx="220.0" cy="111.2" r="3.5"/><circle cx="222.2" cy="129.5" r="3.5"/><circle cx="220.0" cy="150.4" r="3.5"/><circle cx="230.6" cy="125.2" r="3.5"/><circle cx="230.8" cy="32.6" r="3.5"/><circle cx="225.9" cy="54.0" r="3.5"/><circle cx="225.0" cy="76.1" r="3.5"/><circle cx="180.4" cy="57.3" r="3.5"/><circle cx="355.4" cy="54.5" r="3.5"/><circle cx="383.9" cy="57.7" r="3.5"/><circle cx="385.7" cy="32.4" r="3.5"/><circle cx="388.4" cy="33.3" r="3.5"/><circle cx="401.5" cy="76.5" r="3.5"/><circle cx="421.5" cy="74.4" r="3.5"/><circle cx="367.6" cy="111.3" r="3.5"/><circle cx="399.3" cy="125.3" r="3.5"/><circle cx="374.8" cy="129.6" r="3.5"/><circle cx="377.1" cy="139.7" r="3.5"/><circle cx="385.0" cy="137.0" r="3.5"/><circle cx="366.4" cy="151.0" r="3.5"/><circle cx="410.3" cy="178.1" r="3.5"/><circle cx="414.2" cy="102.7" r="3.5"/><circle cx="415.7" cy="130.0" r="3.5"/><circle cx="418.9" cy="129.5" r="3.5"/><circle cx="443.7" cy="127.8" r="3.5"/><circle cx="455.7" cy="127.4" r="3.5"/><circle cx="428.8" cy="141.1" r="3.5"/><circle cx="463.4" cy="141.7" r="3.5"/><circle cx="424.5" cy="149.7" r="3.5"/><circle cx="433.0" cy="158.2" r="3.5"/><circle cx="439.7" cy="160.6" r="3.5"/><circle cx="444.5" cy="155.8" r="3.5"/><circle cx="470.6" cy="164.4" r="3.5"/><circle cx="470.8" cy="168.6" r="3.5"/><circle cx="448.9" cy="185.5" r="3.5"/><circle cx="453.2" cy="183.2" r="3.5"/><circle cx="470.2" cy="187.5" r="3.5"/><circle cx="435.8" cy="194.5" r="3.5"/><circle cx="447.0" cy="197.4" r="3.5"/><circle cx="485.0" cy="189.1" r="3.5"/><circle cx="482.3" cy="193.6" r="3.5"/><circle cx="486.5" cy="200.2" r="3.5"/><circle cx="491.1" cy="198.4" r="3.5"/><circle cx="484.8" cy="205.6" r="3.5"/><circle cx="491.1" cy="205.0" r="3.5"/><circle cx="488.3" cy="203.2" r="3.5"/><circle cx="109.8" cy="422.3" r="3.5"/><circle cx="112.1" cy="444.5" r="3.5"/><circle cx="128.0" cy="445.0" r="3.5"/><circle cx="95.6" cy="473.7" r="3.5"/><circle cx="119.4" cy="478.3" r="3.5"/><circle cx="139.8" cy="460.8" r="3.5"/><circle cx="145.6" cy="461.5" r="3.5"/><circle cx="141.0" cy="466.8" r="3.5"/><circle cx="142.0" cy="488.5" r="3.5"/><circle cx="167.7" cy="484.6" r="3.5"/><circle cx="165.6" cy="498.2" r="3.5"/><circle cx="176.3" cy="490.7" r="3.5"/><circle cx="180.1" cy="480.1" r="3.5"/><circle cx="205.3" cy="482.4" r="3.5"/><circle cx="212.1" cy="488.0" r="3.5"/><circle cx="214.8" cy="485.3" r="3.5"/><circle cx="223.2" cy="486.2" r="3.5"/><circle cx="340.8" cy="501.6" r="3.5"/><circle cx="347.6" cy="501.2" r="3.5"/><circle cx="351.7" cy="503.2" r="3.5"/><circle cx="358.5" cy="501.0" r="3.5"/><circle cx="384.4" cy="449.0" r="3.5"/><circle cx="387.3" cy="500.7" r="3.5"/><circle cx="396.4" cy="490.3" r="3.5"/><circle cx="399.1" cy="501.6" r="3.5"/><circle cx="451.9" cy="359.5" r="3.5"/><circle cx="469.2" cy="360.0" r="3.5"/><circle cx="436.2" cy="395.3" r="3.5"/><circle cx="445.7" cy="399.2" r="3.5"/><circle cx="454.9" cy="413.8" r="3.5"/><circle cx="418.0" cy="464.3" r="3.5"/><circle cx="422.4" cy="460.4" r="3.5"/><circle cx="424.2" cy="463.8" r="3.5"/><circle cx="424.2" cy="476.8" r="3.5"/></g>
<path d="M91.30,40.60H98.70M91.30,43.15H98.70" stroke="#000" stroke-width="1.2" fill="none"/>
<path d="M97.80,51.80L91.50,55.05L97.80,58.30" stroke="#000" stroke-width="1.25" fill="none"/>
<path d="M92.10,67.40H99.50M92.10,69.95H99.50" stroke="#000" stroke-width="1.2" fill="none"/>
<path d="M420.30,30.40H427.30M420.30,32.95H427.30" stroke="#000" stroke-width="1.2" fill="none"/>
<path d="M425.90,42.30L420.70,45.55L425.90,48.80" stroke="#000" stroke-width="1.25" fill="none"/>
<path d="M420.30,57.40H427.30M420.30,59.95H427.30" stroke="#000" stroke-width="1.2" fill="none"/>
<path d="M179.90,341.40H186.80M179.90,343.95H186.80" stroke="#000" stroke-width="1.2" fill="none"/>
<path d="M186.50,352.70L180.30,355.95L186.50,359.20" stroke="#000" stroke-width="1.25" fill="none"/>
<path d="M180.70,367.70H187.60M180.70,370.25H187.60" stroke="#000" stroke-width="1.2" fill="none"/>
<path d="M355.10,342.30H361.30M355.10,344.85H361.30" stroke="#000" stroke-width="1.2" fill="none"/>
<path d="M360.60,352.70L354.40,355.95L360.60,359.20" stroke="#000" stroke-width="1.25" fill="none"/>
<path d="M355.10,367.90H361.70M355.10,370.45H361.70" stroke="#000" stroke-width="1.2" fill="none"/>
<g font-family="Liberation Sans, sans-serif" font-weight="bold" fill="#000" style="font-kerning:none;white-space:pre" xml:space="preserve">
<text x="65.43" y="28.90" font-size="24" textLength="17.98" lengthAdjust="spacingAndGlyphs" font-style="normal" stroke="#000" stroke-width="0.5" stroke-linejoin="round">A</text>
<text x="488.90" y="29.10" font-size="24" textLength="16.70" lengthAdjust="spacingAndGlyphs" font-style="normal" stroke="#000" stroke-width="0.5" stroke-linejoin="round">B</text>
<text x="63.20" y="340.20" font-size="24" textLength="16.79" lengthAdjust="spacingAndGlyphs" font-style="normal" stroke="#000" stroke-width="0.5" stroke-linejoin="round">C</text>
<text x="489.32" y="337.20" font-size="24" textLength="17.55" lengthAdjust="spacingAndGlyphs" font-style="normal" stroke="#000" stroke-width="0.5" stroke-linejoin="round">D</text>
<text x="76.26" y="45.00" font-size="12.0" textLength="7.96" lengthAdjust="spacingAndGlyphs" font-style="normal" >R</text>
<text x="106.33" y="45.00" font-size="12.0" textLength="36.11" lengthAdjust="spacingAndGlyphs" font-style="normal" >0.558</text>
<text x="77.01" y="58.40" font-size="12.0" textLength="7.28" lengthAdjust="spacingAndGlyphs" font-style="italic" >P</text>
<text x="105.32" y="58.40" font-size="12.0" textLength="36.05" lengthAdjust="spacingAndGlyphs" font-style="normal" >.0002</text>
<text x="76.14" y="71.80" font-size="12.0" textLength="9.34" lengthAdjust="spacingAndGlyphs" font-style="normal" >N</text>
<text x="107.29" y="71.80" font-size="12.0" textLength="15.59" lengthAdjust="spacingAndGlyphs" font-style="normal" >40</text>
<text x="404.15" y="34.80" font-size="12.0" textLength="8.08" lengthAdjust="spacingAndGlyphs" font-style="normal" >R</text>
<text x="430.34" y="34.80" font-size="12.0" textLength="40.76" lengthAdjust="spacingAndGlyphs" font-style="normal" >-0.755</text>
<text x="404.80" y="48.90" font-size="12.0" textLength="7.58" lengthAdjust="spacingAndGlyphs" font-style="italic" >P</text>
<text x="434.12" y="48.90" font-size="12.0" textLength="68.46" lengthAdjust="spacingAndGlyphs" font-style="normal" >.00000002</text>
<text x="404.02" y="61.80" font-size="12.0" textLength="9.46" lengthAdjust="spacingAndGlyphs" font-style="normal" >N</text>
<text x="434.87" y="61.80" font-size="12.0" textLength="16.96" lengthAdjust="spacingAndGlyphs" font-style="normal" >40</text>
<text x="165.01" y="345.80" font-size="12.0" textLength="8.53" lengthAdjust="spacingAndGlyphs" font-style="normal" >R</text>
<text x="189.64" y="345.80" font-size="12.0" textLength="40.65" lengthAdjust="spacingAndGlyphs" font-style="normal" >-0.640</text>
<text x="165.79" y="359.30" font-size="12.0" textLength="7.79" lengthAdjust="spacingAndGlyphs" font-style="italic" >P</text>
<text x="194.37" y="359.30" font-size="12.0" textLength="26.62" lengthAdjust="spacingAndGlyphs" font-style="normal" >.006</text>
<text x="164.91" y="372.10" font-size="12.0" textLength="9.58" lengthAdjust="spacingAndGlyphs" font-style="normal" >N</text>
<text x="195.85" y="372.10" font-size="12.0" textLength="14.94" lengthAdjust="spacingAndGlyphs" font-style="normal" >17</text>
<text x="339.32" y="346.70" font-size="12.0" textLength="8.42" lengthAdjust="spacingAndGlyphs" font-style="normal" >R</text>
<text x="368.91" y="346.70" font-size="12.0" textLength="37.02" lengthAdjust="spacingAndGlyphs" font-style="normal" >0.843</text>
<text x="340.10" y="359.30" font-size="12.0" textLength="7.69" lengthAdjust="spacingAndGlyphs" font-style="italic" >P</text>
<text x="368.50" y="359.30" font-size="12.0" textLength="44.93" lengthAdjust="spacingAndGlyphs" font-style="normal" >.00003</text>
<text x="339.22" y="372.30" font-size="12.0" textLength="9.46" lengthAdjust="spacingAndGlyphs" font-style="normal" >N</text>
<text x="370.36" y="372.30" font-size="12.0" textLength="14.83" lengthAdjust="spacingAndGlyphs" font-style="normal" >17</text>
<text x="38.39" y="211.20" font-size="13.0" textLength="7.54" lengthAdjust="spacingAndGlyphs" font-style="normal" stroke="#000" stroke-width="0.25" stroke-linejoin="round">0</text>
<text x="303.49" y="211.00" font-size="13.0" textLength="7.54" lengthAdjust="spacingAndGlyphs" font-style="normal" stroke="#000" stroke-width="0.25" stroke-linejoin="round">0</text>
<text x="38.46" y="165.64" font-size="13.0" textLength="7.45" lengthAdjust="spacingAndGlyphs" font-style="normal" stroke="#000" stroke-width="0.25" stroke-linejoin="round">2</text>
<text x="303.56" y="165.40" font-size="13.0" textLength="7.45" lengthAdjust="spacingAndGlyphs" font-style="normal" stroke="#000" stroke-width="0.25" stroke-linejoin="round">2</text>
<text x="38.74" y="120.08" font-size="13.0" textLength="6.70" lengthAdjust="spacingAndGlyphs" font-style="normal" stroke="#000" stroke-width="0.25" stroke-linejoin="round">4</text>
<text x="303.84" y="119.80" font-size="13.0" textLength="6.70" lengthAdjust="spacingAndGlyphs" font-style="normal" stroke="#000" stroke-width="0.25" stroke-linejoin="round">4</text>
<text x="38.44" y="74.52" font-size="13.0" textLength="7.42" lengthAdjust="spacingAndGlyphs" font-style="normal" stroke="#000" stroke-width="0.25" stroke-linejoin="round">6</text>
<text x="303.54" y="74.20" font-size="13.0" textLength="7.42" lengthAdjust="spacingAndGlyphs" font-style="normal" stroke="#000" stroke-width="0.25" stroke-linejoin="round">6</text>
<text x="38.51" y="28.96" font-size="13.0" textLength="7.27" lengthAdjust="spacingAndGlyphs" font-style="normal" stroke="#000" stroke-width="0.25" stroke-linejoin="round">8</text>
<text x="303.61" y="28.60" font-size="13.0" textLength="7.27" lengthAdjust="spacingAndGlyphs" font-style="normal" stroke="#000" stroke-width="0.25" stroke-linejoin="round">8</text>
<text x="38.19" y="508.90" font-size="13.0" textLength="7.54" lengthAdjust="spacingAndGlyphs" font-style="normal" stroke="#000" stroke-width="0.25" stroke-linejoin="round">0</text>
<text x="303.49" y="507.90" font-size="13.0" textLength="7.54" lengthAdjust="spacingAndGlyphs" font-style="normal" stroke="#000" stroke-width="0.25" stroke-linejoin="round">0</text>
<text x="37.85" y="476.05" font-size="13.0" textLength="7.71" lengthAdjust="spacingAndGlyphs" font-style="normal" stroke="#000" stroke-width="0.25" stroke-linejoin="round">1</text>
<text x="303.15" y="475.20" font-size="13.0" textLength="7.71" lengthAdjust="spacingAndGlyphs" font-style="normal" stroke="#000" stroke-width="0.25" stroke-linejoin="round">1</text>
<text x="38.26" y="443.20" font-size="13.0" textLength="7.45" lengthAdjust="spacingAndGlyphs" font-style="normal" stroke="#000" stroke-width="0.25" stroke-linejoin="round">2</text>
<text x="303.56" y="442.50" font-size="13.0" textLength="7.45" lengthAdjust="spacingAndGlyphs" font-style="normal" stroke="#000" stroke-width="0.25" stroke-linejoin="round">2</text>
<text x="38.43" y="410.35" font-size="13.0" textLength="7.22" lengthAdjust="spacingAndGlyphs" font-style="normal" stroke="#000" stroke-width="0.25" stroke-linejoin="round">3</text>
<text x="303.73" y="409.80" font-size="13.0" textLength="7.22" lengthAdjust="spacingAndGlyphs" font-style="normal" stroke="#000" stroke-width="0.25" stroke-linejoin="round">3</text>
<text x="38.54" y="377.50" font-size="13.0" textLength="6.70" lengthAdjust="spacingAndGlyphs" font-style="normal" stroke="#000" stroke-width="0.25" stroke-linejoin="round">4</text>
<text x="303.84" y="377.10" font-size="13.0" textLength="6.70" lengthAdjust="spacingAndGlyphs" font-style="normal" stroke="#000" stroke-width="0.25" stroke-linejoin="round">4</text>
<text x="38.33" y="344.65" font-size="13.0" textLength="7.21" lengthAdjust="spacingAndGlyphs" font-style="normal" stroke="#000" stroke-width="0.25" stroke-linejoin="round">5</text>
<text x="303.63" y="344.40" font-size="13.0" textLength="7.21" lengthAdjust="spacingAndGlyphs" font-style="normal" stroke="#000" stroke-width="0.25" stroke-linejoin="round">5</text>
<text x="53.41" y="243.90" font-size="13.0" textLength="18.13" lengthAdjust="spacingAndGlyphs" font-style="normal" stroke="#000" stroke-width="0.25" stroke-linejoin="round">0.1</text>
<text x="134.85" y="243.90" font-size="13.0" textLength="5.08" lengthAdjust="spacingAndGlyphs" font-style="normal" stroke="#000" stroke-width="0.25" stroke-linejoin="round">1</text>
<text x="204.17" y="243.90" font-size="13.0" textLength="15.06" lengthAdjust="spacingAndGlyphs" font-style="normal" stroke="#000" stroke-width="0.25" stroke-linejoin="round">10</text>
<text x="336.07" y="243.80" font-size="13.0" textLength="6.37" lengthAdjust="spacingAndGlyphs" font-style="normal" stroke="#000" stroke-width="0.25" stroke-linejoin="round">0</text>
<text x="361.33" y="243.80" font-size="13.0" textLength="15.93" lengthAdjust="spacingAndGlyphs" font-style="normal" stroke="#000" stroke-width="0.25" stroke-linejoin="round">20</text>
<text x="392.41" y="243.80" font-size="13.0" textLength="15.53" lengthAdjust="spacingAndGlyphs" font-style="normal" stroke="#000" stroke-width="0.25" stroke-linejoin="round">40</text>
<text x="422.80" y="243.80" font-size="13.0" textLength="15.96" lengthAdjust="spacingAndGlyphs" font-style="normal" stroke="#000" stroke-width="0.25" stroke-linejoin="round">60</text>
<text x="453.67" y="243.80" font-size="13.0" textLength="15.78" lengthAdjust="spacingAndGlyphs" font-style="normal" stroke="#000" stroke-width="0.25" stroke-linejoin="round">80</text>
<text x="480.24" y="243.80" font-size="13.0" textLength="23.52" lengthAdjust="spacingAndGlyphs" font-style="normal" stroke="#000" stroke-width="0.25" stroke-linejoin="round">100</text>
<text x="71.07" y="550.50" font-size="13.0" textLength="6.37" lengthAdjust="spacingAndGlyphs" font-style="normal" stroke="#000" stroke-width="0.25" stroke-linejoin="round">0</text>
<text x="97.06" y="550.50" font-size="13.0" textLength="15.08" lengthAdjust="spacingAndGlyphs" font-style="normal" stroke="#000" stroke-width="0.25" stroke-linejoin="round">20</text>
<text x="126.72" y="550.50" font-size="13.0" textLength="14.80" lengthAdjust="spacingAndGlyphs" font-style="normal" stroke="#000" stroke-width="0.25" stroke-linejoin="round">40</text>
<text x="157.22" y="550.50" font-size="13.0" textLength="15.43" lengthAdjust="spacingAndGlyphs" font-style="normal" stroke="#000" stroke-width="0.25" stroke-linejoin="round">60</text>
<text x="186.89" y="550.50" font-size="13.0" textLength="15.35" lengthAdjust="spacingAndGlyphs" font-style="normal" stroke="#000" stroke-width="0.25" stroke-linejoin="round">80</text>
<text x="213.59" y="550.50" font-size="13.0" textLength="22.13" lengthAdjust="spacingAndGlyphs" font-style="normal" stroke="#000" stroke-width="0.25" stroke-linejoin="round">100</text>
<text x="335.91" y="549.70" font-size="13.0" textLength="7.19" lengthAdjust="spacingAndGlyphs" font-style="normal" stroke="#000" stroke-width="0.25" stroke-linejoin="round">0</text>
<text x="362.88" y="549.70" font-size="13.0" textLength="14.32" lengthAdjust="spacingAndGlyphs" font-style="normal" stroke="#000" stroke-width="0.25" stroke-linejoin="round">20</text>
<text x="392.33" y="549.70" font-size="13.0" textLength="14.69" lengthAdjust="spacingAndGlyphs" font-style="normal" stroke="#000" stroke-width="0.25" stroke-linejoin="round">40</text>
<text x="422.90" y="549.70" font-size="13.0" textLength="15.96" lengthAdjust="spacingAndGlyphs" font-style="normal" stroke="#000" stroke-width="0.25" stroke-linejoin="round">60</text>
<text x="453.57" y="549.70" font-size="13.0" textLength="15.89" lengthAdjust="spacingAndGlyphs" font-style="normal" stroke="#000" stroke-width="0.25" stroke-linejoin="round">80</text>
<text x="480.36" y="549.70" font-size="13.0" textLength="22.88" lengthAdjust="spacingAndGlyphs" font-style="normal" stroke="#000" stroke-width="0.25" stroke-linejoin="round">100</text>
<text x="97.69" y="264.00" font-size="14.0" textLength="28.80" lengthAdjust="spacingAndGlyphs" font-style="normal" stroke="#000" stroke-width="0.25" stroke-linejoin="round">AGE</text>
<text x="142.24" y="263.30" font-size="14.0" textLength="3.24" lengthAdjust="spacingAndGlyphs" font-style="normal" stroke="#000" stroke-width="0.25" stroke-linejoin="round">(</text>
<text x="152.72" y="263.30" font-size="14.0" textLength="35.00" lengthAdjust="spacingAndGlyphs" font-style="normal" stroke="#000" stroke-width="0.25" stroke-linejoin="round">years</text>
<text x="194.52" y="263.30" font-size="14.0" textLength="3.24" lengthAdjust="spacingAndGlyphs" font-style="normal" stroke="#000" stroke-width="0.25" stroke-linejoin="round">)</text>
<text x="352.33" y="263.10" font-size="14.0" textLength="63.79" lengthAdjust="spacingAndGlyphs" font-style="normal" stroke="#000" stroke-width="0.25" stroke-linejoin="round">PERCENT</text>
<text x="427.17" y="263.10" font-size="14.0" textLength="7.77" lengthAdjust="spacingAndGlyphs" font-style="normal" stroke="#000" stroke-width="0.25" stroke-linejoin="round">F</text>
<text x="440.67" y="263.10" font-size="14.0" textLength="44.13" lengthAdjust="spacingAndGlyphs" font-style="normal" stroke="#000" stroke-width="0.25" stroke-linejoin="round">CELLS</text>
<text x="83.34" y="570.00" font-size="14.0" textLength="62.97" lengthAdjust="spacingAndGlyphs" font-style="normal" stroke="#000" stroke-width="0.25" stroke-linejoin="round">PERCENT</text>
<text x="158.27" y="570.00" font-size="14.0" textLength="6.92" lengthAdjust="spacingAndGlyphs" font-style="normal" stroke="#000" stroke-width="0.25" stroke-linejoin="round">F</text>
<text x="172.20" y="570.00" font-size="14.0" textLength="42.08" lengthAdjust="spacingAndGlyphs" font-style="normal" stroke="#000" stroke-width="0.25" stroke-linejoin="round">CELLS</text>
<text x="339.16" y="569.70" font-size="14.0" textLength="62.06" lengthAdjust="spacingAndGlyphs" font-style="normal" stroke="#000" stroke-width="0.25" stroke-linejoin="round">PERCENT</text>
<text x="414.43" y="569.00" font-size="14.0" textLength="40.54" lengthAdjust="spacingAndGlyphs" font-style="normal" stroke="#000" stroke-width="0.25" stroke-linejoin="round">non–F</text>
<text x="461.89" y="569.00" font-size="14.0" textLength="42.39" lengthAdjust="spacingAndGlyphs" font-style="normal" stroke="#000" stroke-width="0.25" stroke-linejoin="round">CELLS</text>
<text transform="translate(13.80,59.30) rotate(-90)" x="0" y="0" font-size="14.2" textLength="42.28" lengthAdjust="spacingAndGlyphs" font-style="normal" stroke="#000" stroke-width="0.25" stroke-linejoin="round">CELLS</text>
<text transform="translate(13.80,92.74) rotate(-90)" x="0" y="0" font-size="14.2" textLength="27.26" lengthAdjust="spacingAndGlyphs" font-style="normal" stroke="#000" stroke-width="0.25" stroke-linejoin="round">RED</text>
<text transform="translate(13.80,211.97) rotate(-90)" x="0" y="0" font-size="14.2" textLength="108.51" lengthAdjust="spacingAndGlyphs" font-style="normal" stroke="#000" stroke-width="0.25" stroke-linejoin="round">CD36-POSITIVE</text>
<text transform="translate(26.90,53.09) rotate(-90)" x="0" y="0" font-size="13.0" textLength="5.13" lengthAdjust="spacingAndGlyphs" font-style="normal" stroke="#000" stroke-width="0.25" stroke-linejoin="round">)</text>
<text transform="translate(26.90,88.18) rotate(-90)" x="0" y="0" font-size="13.0" textLength="28.58" lengthAdjust="spacingAndGlyphs" font-style="normal" stroke="#000" stroke-width="0.25" stroke-linejoin="round">cells</text>
<text transform="translate(26.90,115.20) rotate(-90)" x="0" y="0" font-size="13.0" textLength="21.80" lengthAdjust="spacingAndGlyphs" font-style="normal" stroke="#000" stroke-width="0.25" stroke-linejoin="round">red</text>
<text transform="translate(26.90,149.55) rotate(-90)" x="0" y="0" font-size="13.0" textLength="30.86" lengthAdjust="spacingAndGlyphs" font-style="normal" stroke="#000" stroke-width="0.25" stroke-linejoin="round">total</text>
<text transform="translate(26.90,169.05) rotate(-90)" x="0" y="0" font-size="13.0" textLength="13.32" lengthAdjust="spacingAndGlyphs" font-style="normal" stroke="#000" stroke-width="0.25" stroke-linejoin="round">%</text>
<text transform="translate(26.90,179.88) rotate(-90)" x="0" y="0" font-size="13.0" textLength="5.37" lengthAdjust="spacingAndGlyphs" font-style="normal" stroke="#000" stroke-width="0.25" stroke-linejoin="round">(</text>
<text transform="translate(278.10,58.20) rotate(-90)" x="0" y="0" font-size="14.2" textLength="41.77" lengthAdjust="spacingAndGlyphs" font-style="normal" stroke="#000" stroke-width="0.25" stroke-linejoin="round">CELLS</text>
<text transform="translate(278.10,91.84) rotate(-90)" x="0" y="0" font-size="14.2" textLength="27.15" lengthAdjust="spacingAndGlyphs" font-style="normal" stroke="#000" stroke-width="0.25" stroke-linejoin="round">RED</text>
<text transform="translate(278.10,210.87) rotate(-90)" x="0" y="0" font-size="14.2" textLength="108.31" lengthAdjust="spacingAndGlyphs" font-style="normal" stroke="#000" stroke-width="0.25" stroke-linejoin="round">CD36-POSITIVE</text>
<text transform="translate(292.60,52.19) rotate(-90)" x="0" y="0" font-size="13.0" textLength="5.13" lengthAdjust="spacingAndGlyphs" font-style="normal" stroke="#000" stroke-width="0.25" stroke-linejoin="round">)</text>
<text transform="translate(292.60,87.28) rotate(-90)" x="0" y="0" font-size="13.0" textLength="28.58" lengthAdjust="spacingAndGlyphs" font-style="normal" stroke="#000" stroke-width="0.25" stroke-linejoin="round">cells</text>
<text transform="translate(292.60,114.30) rotate(-90)" x="0" y="0" font-size="13.0" textLength="21.80" lengthAdjust="spacingAndGlyphs" font-style="normal" stroke="#000" stroke-width="0.25" stroke-linejoin="round">red</text>
<text transform="translate(292.60,148.65) rotate(-90)" x="0" y="0" font-size="13.0" textLength="30.86" lengthAdjust="spacingAndGlyphs" font-style="normal" stroke="#000" stroke-width="0.25" stroke-linejoin="round">total</text>
<text transform="translate(292.60,168.15) rotate(-90)" x="0" y="0" font-size="13.0" textLength="13.32" lengthAdjust="spacingAndGlyphs" font-style="normal" stroke="#000" stroke-width="0.25" stroke-linejoin="round">%</text>
<text transform="translate(292.60,178.98) rotate(-90)" x="0" y="0" font-size="13.0" textLength="5.37" lengthAdjust="spacingAndGlyphs" font-style="normal" stroke="#000" stroke-width="0.25" stroke-linejoin="round">(</text>
<text transform="translate(14.70,346.20) rotate(-90)" x="0" y="0" font-size="14.2" textLength="41.87" lengthAdjust="spacingAndGlyphs" font-style="normal" stroke="#000" stroke-width="0.25" stroke-linejoin="round">CELLS</text>
<text transform="translate(14.70,359.59) rotate(-90)" x="0" y="0" font-size="14.2" textLength="8.37" lengthAdjust="spacingAndGlyphs" font-style="normal" stroke="#000" stroke-width="0.25" stroke-linejoin="round">F</text>
<text transform="translate(14.70,417.55) rotate(-90)" x="0" y="0" font-size="14.2" textLength="48.24" lengthAdjust="spacingAndGlyphs" font-style="normal" stroke="#000" stroke-width="0.25" stroke-linejoin="round">SICKLE</text>
<text transform="translate(14.70,536.96) rotate(-90)" x="0" y="0" font-size="14.2" textLength="107.09" lengthAdjust="spacingAndGlyphs" font-style="normal" stroke="#000" stroke-width="0.25" stroke-linejoin="round">CD36-POSITIVE</text>
<text transform="translate(28.40,369.49) rotate(-90)" x="0" y="0" font-size="13.0" textLength="5.13" lengthAdjust="spacingAndGlyphs" font-style="normal" stroke="#000" stroke-width="0.25" stroke-linejoin="round">)</text>
<text transform="translate(28.40,404.58) rotate(-90)" x="0" y="0" font-size="13.0" textLength="28.58" lengthAdjust="spacingAndGlyphs" font-style="normal" stroke="#000" stroke-width="0.25" stroke-linejoin="round">cells</text>
<text transform="translate(28.40,431.60) rotate(-90)" x="0" y="0" font-size="13.0" textLength="21.80" lengthAdjust="spacingAndGlyphs" font-style="normal" stroke="#000" stroke-width="0.25" stroke-linejoin="round">red</text>
<text transform="translate(28.40,465.95) rotate(-90)" x="0" y="0" font-size="13.0" textLength="30.86" lengthAdjust="spacingAndGlyphs" font-style="normal" stroke="#000" stroke-width="0.25" stroke-linejoin="round">total</text>
<text transform="translate(28.40,485.45) rotate(-90)" x="0" y="0" font-size="13.0" textLength="13.32" lengthAdjust="spacingAndGlyphs" font-style="normal" stroke="#000" stroke-width="0.25" stroke-linejoin="round">%</text>
<text transform="translate(28.40,496.28) rotate(-90)" x="0" y="0" font-size="13.0" textLength="5.37" lengthAdjust="spacingAndGlyphs" font-style="normal" stroke="#000" stroke-width="0.25" stroke-linejoin="round">(</text>
<text transform="translate(283.30,345.40) rotate(-90)" x="0" y="0" font-size="14.2" textLength="41.67" lengthAdjust="spacingAndGlyphs" font-style="normal" stroke="#000" stroke-width="0.25" stroke-linejoin="round">CELLS</text>
<text transform="translate(283.30,391.79) rotate(-90)" x="0" y="0" font-size="14.2" textLength="41.57" lengthAdjust="spacingAndGlyphs" font-style="normal" stroke="#000" stroke-width="0.25" stroke-linejoin="round">non–F</text>
<text transform="translate(283.30,450.66) rotate(-90)" x="0" y="0" font-size="14.2" textLength="49.06" lengthAdjust="spacingAndGlyphs" font-style="normal" stroke="#000" stroke-width="0.25" stroke-linejoin="round">SICKLE</text>
<text transform="translate(283.30,569.57) rotate(-90)" x="0" y="0" font-size="14.2" textLength="108.00" lengthAdjust="spacingAndGlyphs" font-style="normal" stroke="#000" stroke-width="0.25" stroke-linejoin="round">CD36-POSITIVE</text>
<text transform="translate(297.20,363.59) rotate(-90)" x="0" y="0" font-size="13.0" textLength="5.13" lengthAdjust="spacingAndGlyphs" font-style="normal" stroke="#000" stroke-width="0.25" stroke-linejoin="round">)</text>
<text transform="translate(297.20,398.68) rotate(-90)" x="0" y="0" font-size="13.0" textLength="28.58" lengthAdjust="spacingAndGlyphs" font-style="normal" stroke="#000" stroke-width="0.25" stroke-linejoin="round">cells</text>
<text transform="translate(297.20,425.70) rotate(-90)" x="0" y="0" font-size="13.0" textLength="21.80" lengthAdjust="spacingAndGlyphs" font-style="normal" stroke="#000" stroke-width="0.25" stroke-linejoin="round">red</text>
<text transform="translate(297.20,460.05) rotate(-90)" x="0" y="0" font-size="13.0" textLength="30.86" lengthAdjust="spacingAndGlyphs" font-style="normal" stroke="#000" stroke-width="0.25" stroke-linejoin="round">total</text>
<text transform="translate(297.20,479.55) rotate(-90)" x="0" y="0" font-size="13.0" textLength="13.32" lengthAdjust="spacingAndGlyphs" font-style="normal" stroke="#000" stroke-width="0.25" stroke-linejoin="round">%</text>
<text transform="translate(297.20,490.38) rotate(-90)" x="0" y="0" font-size="13.0" textLength="5.37" lengthAdjust="spacingAndGlyphs" font-style="normal" stroke="#000" stroke-width="0.25" stroke-linejoin="round">(</text>
</g></svg>
</body></html>
